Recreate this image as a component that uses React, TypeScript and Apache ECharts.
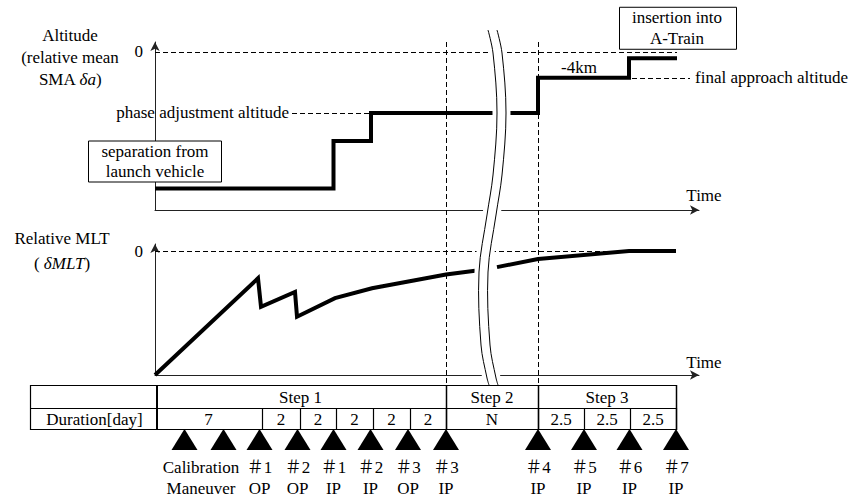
import React, { useEffect, useRef } from "react";
import * as echarts from "echarts";

const SERIF = "Liberation Serif, Times New Roman, Noto Sans CJK JP, serif";
const FS = 17;

// Shared schematic time axis
const TIME_MAX = 108.8;

// Altitude: relative mean SMA δa [km], before and after the time break
const altitudeStep1: number[][] = [
  [0, -21], [35.7, -21], [35.7, -13.7], [43.2, -13.7], [43.2, -9.4], [67.8, -9.4],
];
const altitudeStep23: number[][] = [
  [70.8, -9.4], [76.6, -9.4], [76.6, -4], [94.8, -4], [94.8, -1], [104.4, -1],
];
const PHASE_ALT = -9.4;
const FINAL_ALT = -4;
const INSERT_ALT = -1;

// Relative MLT, before and after the time break
const mltStep1: number[][] = [
  [0, -10], [20.6, -2.2], [21.2, -4.5], [28, -3.3], [28.4, -5.3],
  [36, -3.8], [43.4, -3.0], [58.2, -1.9], [64, -1.6],
];
const mltStep23: number[][] = [
  [68.4, -1.3], [76.6, -0.65], [94.8, 0], [104.2, 0],
];

// Schedule table
const stepBounds = [0, 58.2, 76.6, 104.2];
const stepNames = ["Step 1", "Step 2", "Step 3"];
const durationBounds = [0, 21.4, 29, 36.2, 43.6, 51, 58.2, 76.6, 85.8, 95, 104.2];
const durationDays = ["7", "2", "2", "2", "2", "2", "N", "2.5", "2.5", "2.5"];

// Maneuvers
const calibrationTimes = [5.9, 13.7];
const maneuverTimes = [20.9, 28.5, 35.7, 43.1, 50.6, 58.2, 76.6, 85.8, 94.9, 104.2];
const maneuverIds = ["＃1", "＃2", "＃1", "＃2", "＃3", "＃3", "＃4", "＃5", "＃6", "＃7"];
const maneuverTypes = ["OP", "OP", "IP", "IP", "OP", "IP", "IP", "IP", "IP", "IP"];

// Time break position and its wavy outline (dx, page y)
const BREAK_T = 66.6;
const breakCurve = [
  [0, 30], [5, 53], [9, 113], [5, 175], [-1, 215], [-9, 272], [-7, 345], [-1, 378], [1, 385],
];

const AXIS_COLOR = "#222";
const dash = [5, 3];

function axisLine() {
  return {
    show: true,
    onZero: false,
    symbol: ["none", "arrow"],
    symbolSize: [7, 9],
    lineStyle: { color: AXIS_COLOR, width: 1 },
  };
}

function xAxis(gridIndex: number) {
  return {
    type: "value",
    gridIndex,
    min: 0,
    max: TIME_MAX,
    axisLine: axisLine(),
    axisTick: { show: false },
    axisLabel: { show: false },
    splitLine: { show: false },
  };
}

function yAxis(gridIndex: number, min: number, max: number) {
  return {
    type: "value",
    gridIndex,
    min,
    max,
    axisLine: axisLine(),
    axisTick: { show: false },
    splitLine: { show: false },
    axisLabel: {
      show: true,
      customValues: [0],
      color: "#000",
      fontFamily: SERIF,
      fontSize: FS,
      margin: 12,
    },
  };
}

const thick = { color: "#000", width: 4, cap: "butt", join: "miter" };
const dashedStyle = { color: "#000", width: 1, type: dash };
const labelText = { color: "#000", fontFamily: SERIF, fontSize: FS };

function buildOption() {
  return {
    animation: false,
    backgroundColor: "#fff",
    textStyle: { fontFamily: SERIF },
    grid: [
      { left: 155, top: 42, width: 544, height: 168 },
      { left: 155, top: 244, width: 544, height: 131 },
    ],
    xAxis: [xAxis(0), xAxis(1)],
    yAxis: [yAxis(0, -24.3, 1.5), yAxis(1, -10, 0.565)],
    series: [
      {
        type: "line",
        xAxisIndex: 0,
        yAxisIndex: 0,
        data: altitudeStep1,
        symbol: "none",
        lineStyle: thick,
        silent: true,
        z: 5,
        markLine: {
          silent: true,
          symbol: "none",
          lineStyle: dashedStyle,
          label: { show: false },
          data: [
            [{ coord: [0, 0] }, { coord: [104.4, 0] }],
            [
              {
                coord: [27.4, PHASE_ALT],
                label: { show: true, position: "start", distance: 3, formatter: "phase adjustment altitude", ...labelText },
              },
              { coord: [43.2, PHASE_ALT] },
            ],
          ],
        },
      },
      {
        type: "line",
        xAxisIndex: 0,
        yAxisIndex: 0,
        data: altitudeStep23,
        symbol: "none",
        lineStyle: thick,
        silent: true,
        z: 5,
        markLine: {
          silent: true,
          symbol: "none",
          lineStyle: dashedStyle,
          label: { show: false },
          data: [
            [
              {
                coord: [95.4, FINAL_ALT],
                label: { show: true, position: "end", distance: 5, formatter: "final approach altitude", ...labelText },
              },
              { coord: [107, FINAL_ALT] },
            ],
          ],
        },
      },
      {
        type: "line",
        xAxisIndex: 1,
        yAxisIndex: 1,
        data: mltStep1,
        symbol: "none",
        lineStyle: thick,
        silent: true,
        z: 5,
        markLine: {
          silent: true,
          symbol: "none",
          lineStyle: dashedStyle,
          label: { show: false },
          data: [[{ coord: [0, 0] }, { coord: [94.8, 0] }]],
        },
      },
      {
        type: "line",
        xAxisIndex: 1,
        yAxisIndex: 1,
        data: mltStep23,
        symbol: "none",
        lineStyle: thick,
        silent: true,
        z: 5,
      },
    ],
  };
}

function text(str: string, x: number, y: number, align = "center", vAlign = "middle", extra: any = {}) {
  return {
    type: "text",
    x,
    y,
    silent: true,
    z: 60,
    style: {
      text: str,
      fill: "#000",
      fontFamily: SERIF,
      fontSize: FS,
      align,
      verticalAlign: vAlign,
      ...extra,
    },
  };
}

function seg(x1: number, y1: number, x2: number, y2: number, lineWidth = 1, lineDash: number[] | null = null, z = 55) {
  return {
    type: "line",
    silent: true,
    z,
    shape: { x1, y1, x2, y2 },
    style: { stroke: "#000", lineWidth, lineDash },
  };
}

function buildGraphics(chart: any) {
  const X = (t: number) => chart.convertToPixel({ xAxisIndex: 0 }, t) as number;
  const Y1 = (v: number) => chart.convertToPixel({ yAxisIndex: 0 }, v) as number;
  const Y2 = (v: number) => chart.convertToPixel({ yAxisIndex: 1 }, v) as number;
  const els: any[] = [];

  // Panel titles
  els.push(
    text("Altitude\n(relative mean\nSMA {i|δa})", 70, 24, "center", "top", {
      lineHeight: 22,
      rich: { i: { fontFamily: SERIF, fontSize: FS, fontStyle: "italic", lineHeight: 22 } },
    })
  );
  els.push(
    text("Relative MLT\n( {i|δMLT})", 62, 226, "center", "top", {
      lineHeight: 25,
      rich: { i: { fontFamily: SERIF, fontSize: FS, fontStyle: "italic", lineHeight: 25 } },
    })
  );

  // Axis names
  const xEnd = X(TIME_MAX) + 5;
  els.push(text("Time", xEnd, Y1(-24.3) - 15));
  els.push(text("Time", xEnd, Y2(-10) - 13));

  // Annotation boxes
  const sepCx = X(0);
  const sepBottom = Y1(altitudeStep1[0][1]) - 7;
  els.push({
    type: "rect", silent: true, z: 30,
    shape: { x: sepCx - 67 + 0.5, y: sepBottom - 41 + 0.5, width: 133, height: 41 },
    style: { fill: "#fff", stroke: "#000", lineWidth: 1 },
  });
  els.push(text("separation from\nlaunch vehicle", sepCx, sepBottom - 20.5, "center", "middle", { lineHeight: 20 }));

  const insCx = X(altitudeStep23[altitudeStep23.length - 1][0]);
  const insBottom = Y1(INSERT_ALT) - 9.5;
  els.push({
    type: "rect", silent: true, z: 30,
    shape: { x: insCx - 58 + 0.5, y: insBottom - 42 + 0.5, width: 117, height: 42 },
    style: { fill: "#fff", stroke: "#000", lineWidth: 1 },
  });
  els.push(text("insertion into\nA-Train", insCx, insBottom - 21, "center", "middle", { lineHeight: 21 }));

  // -4km label on the final approach step
  els.push(text("-4km", X(81.2), Y1(FINAL_ALT) - 2, "left", "bottom"));

  // Step boundaries as vertical dashed lines
  const tableTop = 385;
  const tableMid = 408;
  const tableBottom = 429;
  [stepBounds[1], stepBounds[2]].forEach((t) => {
    const x = Math.round(X(t)) + 0.5;
    els.push(seg(x, Y1(1.5), x, tableTop, 1, dash, 15));
  });

  // Schedule table
  const tLeft = 30;
  const tRight = Math.round(X(stepBounds[stepBounds.length - 1])) + 0.5;
  [tableTop, tableMid, tableBottom].forEach((y) => els.push(seg(tLeft, y + 0.5, tRight, y + 0.5, 1.2)));
  els.push(seg(tLeft + 0.5, tableTop, tLeft + 0.5, tableBottom + 1, 1.2));
  els.push(seg(X(0) + 2, tableTop, X(0) + 2, tableBottom + 1, 2));
  stepBounds.slice(1).forEach((t) => {
    const x = Math.round(X(t)) + 0.5;
    els.push(seg(x, tableTop, x, tableBottom + 1, 1.5));
  });
  durationBounds.slice(1).forEach((t) => {
    const x = Math.round(X(t)) + 0.5;
    els.push(seg(x, tableMid, x, tableBottom + 1, 1.2));
  });
  els.push(text("Duration[day]", (tLeft + X(0)) / 2 + 2, (tableMid + tableBottom) / 2 + 1));
  stepNames.forEach((name, i) => {
    els.push(text(name, (X(stepBounds[i]) + X(stepBounds[i + 1])) / 2, (tableTop + tableMid) / 2 + 1));
  });
  durationDays.forEach((d, i) => {
    els.push(text(d, (X(durationBounds[i]) + X(durationBounds[i + 1])) / 2, (tableMid + tableBottom) / 2 + 1));
  });

  // Maneuver markers
  const triTop = tableBottom;
  const triBottom = 450;
  const triHalf = 13;
  const tri = (t: number) => {
    const x = X(t);
    return {
      type: "polygon", silent: true, z: 25,
      shape: { points: [[x - triHalf, triBottom], [x, triTop], [x + triHalf, triBottom]] },
      style: { fill: "#000" },
    };
  };
  calibrationTimes.forEach((t) => els.push(tri(t)));
  maneuverTimes.forEach((t) => els.push(tri(t)));
  const line1 = 467;
  const line2 = 488;
  const calX = (X(calibrationTimes[0]) + X(calibrationTimes[1])) / 2 - 3;
  els.push(text("Calibration", calX, line1));
  els.push(text("Maneuver", calX, line2));
  maneuverTimes.forEach((t, i) => {
    els.push(text(maneuverIds[i], X(t), line1));
    els.push(text(maneuverTypes[i], X(t), line2));
  });

  // Time break: white band with a double wavy outline
  const bx = X(BREAK_T);
  const curve = (off: number) => breakCurve.map(([dx, y]) => [bx + dx + off, y]);
  els.push({
    type: "polyline", silent: true, z: 50,
    shape: { points: curve(4.5), smooth: 0.35 },
    style: { stroke: "#fff", lineWidth: 18, fill: null },
  });
  [0, 9].forEach((off) => {
    els.push({
      type: "polyline", silent: true, z: 51,
      shape: { points: curve(off), smooth: 0.35 },
      style: { stroke: "#000", lineWidth: 1, fill: null },
    });
  });

  return els;
}

export default function App() {
  const ref = useRef<HTMLDivElement>(null);
  useEffect(() => {
    const chart = echarts.init(ref.current as HTMLDivElement, null, { renderer: "svg" });
    chart.setOption(buildOption() as any);
    chart.setOption({ graphic: { elements: buildGraphics(chart) } } as any);
    return () => chart.dispose();
  }, []);
  return (
    <div
      ref={ref}
      style={{ position: "fixed", left: 0, top: 0, width: 853, height: 500, background: "#fff" }}
    />
  );
}
